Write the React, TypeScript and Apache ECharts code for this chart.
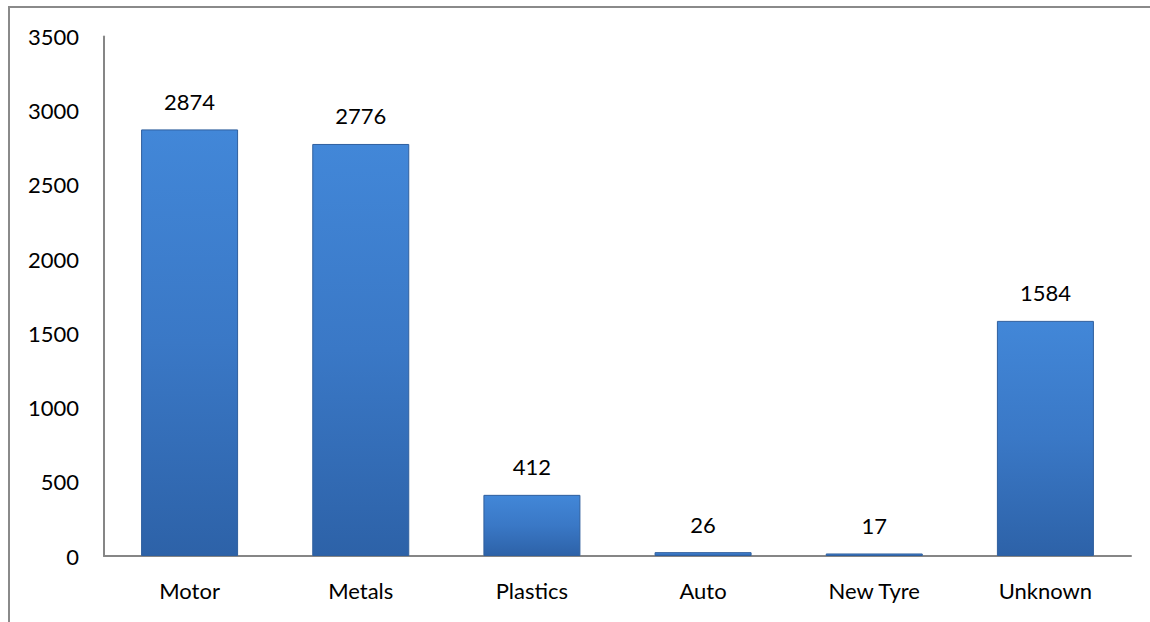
import React, { useEffect, useRef } from "react";
import * as echarts from "echarts";

const categories = ["Motor", "Metals", "Plastics", "Auto", "New Tyre", "Unknown"];
const values = [2874, 2776, 412, 26, 17, 1584];
const yTicks = [0, 500, 1000, 1500, 2000, 2500, 3000, 3500];

const FONT = "Lato, 'Liberation Sans', sans-serif";

export default function App() {
  const ref = useRef<HTMLDivElement>(null);
  useEffect(() => {
    document.body.style.margin = "0";
    const chart = echarts.init(ref.current!, undefined, { renderer: "svg" });
    chart.setOption({
      animation: false,
      backgroundColor: "#ffffff",
      textStyle: { fontFamily: FONT },
      graphic: [
        {
          type: "rect",
          shape: { x: 9, y: 7, width: 1200, height: 700 },
          style: { fill: "none", stroke: "#8a8a8a", lineWidth: 2 },
          silent: true,
        },
      ],
      grid: { left: 104, right: 19, top: 36.5, bottom: 66, containLabel: false },
      xAxis: {
        type: "category",
        data: categories,
        axisLine: { show: true, lineStyle: { color: "#868686", width: 2 } },
        axisTick: { show: false },
        axisLabel: { color: "#000", fontSize: 22, fontFamily: FONT, margin: 23 },
      },
      yAxis: {
        type: "value",
        min: yTicks[0],
        max: yTicks[yTicks.length - 1],
        interval: 500,
        axisLine: { show: true, lineStyle: { color: "#868686", width: 2 } },
        axisTick: { show: false },
        splitLine: { show: false },
        axisLabel: {
          color: "#000",
          fontSize: 22,
          fontFamily: FONT,
          margin: 25,
          formatter: (v: number) => String(v),
        },
      },
      series: [
        {
          type: "bar",
          data: values,
          barWidth: 97,
          itemStyle: {
            color: {
              type: "linear",
              x: 0,
              y: 0,
              x2: 0,
              y2: 1,
              colorStops: [
                { offset: 0, color: "#4287d8" },
                { offset: 0.5, color: "#3a78c6" },
                { offset: 1, color: "#2d62a8" },
              ],
            },
            borderColor: "#2f5f9e",
            borderWidth: 1,
          },
          label: {
            show: true,
            position: "top",
            distance: 17,
            color: "#000",
            fontSize: 22,
            fontFamily: FONT,
          },
        },
      ],
    });
    return () => chart.dispose();
  }, []);
  return (
    <div
      ref={ref}
      style={{ position: "absolute", left: 0, top: 0, width: 1150, height: 622 }}
    />
  );
}
